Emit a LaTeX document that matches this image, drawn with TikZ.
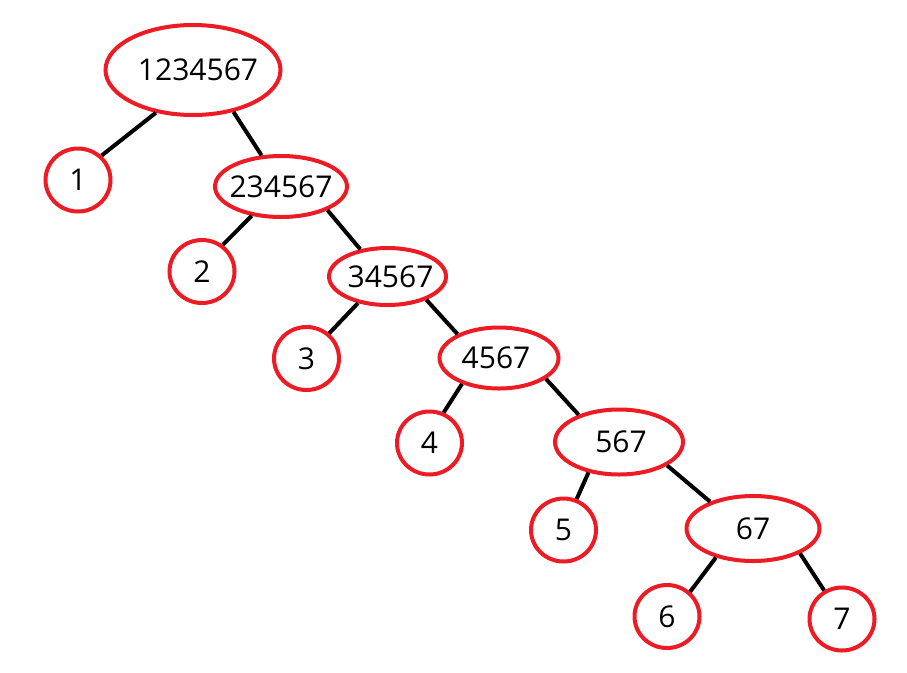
\documentclass[tikz,border=0pt]{standalone}
\usepackage{fontspec}
\setmainfont{Open Sans}
\usetikzlibrary{shapes.geometric}
\definecolor{paintred}{HTML}{ED1C24}

\begin{document}
\begin{tikzpicture}[x=1pt, y=-1pt,
    every label/.style={font=\fontsize{30}{36}\selectfont, inner sep=0pt},
    set/.style={draw=paintred, line width=4pt, ellipse, inner sep=0pt},
    leaf/.style={set, minimum width=65pt, minimum height=63pt, font=\fontsize{30}{36}\selectfont},
    branch/.style={line width=4pt, black}]
    \useasboundingbox (0,0) rectangle (907,672);

    % sets
    \node[set, minimum width=175pt, minimum height=90pt, label={[xshift=5pt]center:1234567}] (s1) at (193,70) {};
    \node[set, minimum width=132pt, minimum height=61pt, label=center:234567] (s2) at (281,186.5) {};
    \node[set, minimum width=117pt, minimum height=57pt, label={[xshift=3pt]center:34567}] (s3) at (387.5,276.5) {};
    \node[set, minimum width=119pt, minimum height=61pt, label={[xshift=-3pt]center:4567}] (s4) at (499,358) {};
    \node[set, minimum width=128pt, minimum height=65pt, label={[xshift=2pt]center:567}] (s5) at (619,442) {};
    \node[set, minimum width=133pt, minimum height=65pt, label=center:67] (s6) at (753,528.5) {};

    % leaves
    \node[leaf] (l1) at (78,180) {1};
    \node[leaf] (l2) at (202,271.5) {2};
    \node[leaf] (l3) at (306.5,358.5) {3};
    \node[leaf] (l4) at (429.5,443) {4};
    \node[leaf] (l5) at (563.5,530) {5};
    \node[leaf] (l6) at (667,616.5) {6};
    \node[leaf] (l7) at (842,619) {7};

    \draw[branch]
    (s1.229) -- (l1.46)
    (s1.314) -- (s2.122)
    (s2.225) -- (l2.52)
    (s2.333) -- (s3.135)
    (s3.222) -- (l3.48)
    (s3.329) -- (s4.150)
    (s4.215) -- (l4.65)
    (s4.336) -- (s5.146)
    (s5.225) -- (l5.67)
    (s5.334) -- (s6.148)
    (s6.218) -- (l6.47)
    (s6.332) -- (l7.122)
    ;
\end{tikzpicture}
\end{document}
